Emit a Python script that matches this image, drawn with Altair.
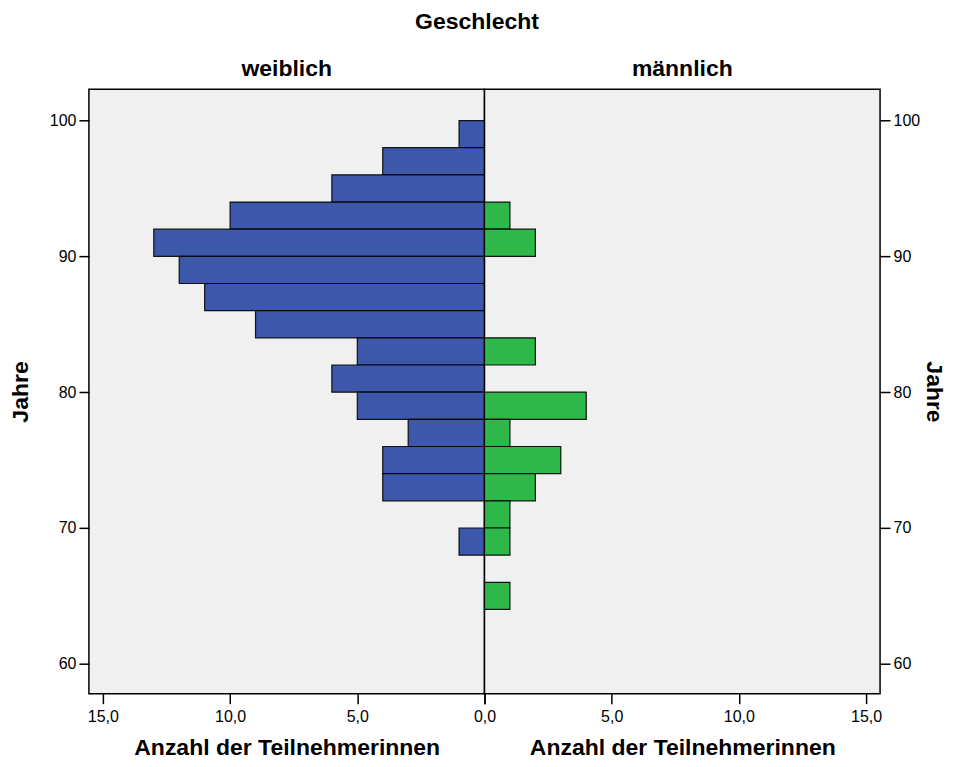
import altair as alt
import pandas as pd

# Age classes (2-year bins, lower bound in years)
age_start = [98, 96, 94, 92, 90, 88, 86, 84, 82, 80, 78, 76, 74, 72, 70, 68, 66, 64]
age_end = [100, 98, 96, 94, 92, 90, 88, 86, 84, 82, 80, 78, 76, 74, 72, 70, 68, 66]
female = [1, 4, 6, 10, 13, 12, 11, 9, 5, 6, 5, 3, 4, 4, 0, 1, 0, 0]
male = [0, 0, 0, 1, 2, 0, 0, 0, 2, 0, 4, 1, 3, 2, 1, 1, 0, 1]

x_ticks = [0, 5, 10, 15]
y_ticks = [60, 70, 80, 90, 100]

df_f = pd.DataFrame({"start": age_start, "end": age_end, "n": female})
df_f = df_f[df_f.n > 0]
df_m = pd.DataFrame({"start": age_start, "end": age_end, "n": male})
df_m = df_m[df_m.n > 0]

FONT = "Liberation Sans"
W, H = 396, 605
label_left = "replace(format(datum.value, '.1f'), '.', ',')"
label_right = "datum.value == 0 ? '' : replace(format(datum.value, '.1f'), '.', ',')"

yscale = alt.Scale(domain=[57.8, 102.3], nice=False, zero=False)


def panel(df, color, reverse, orient, title_angle, name, lexpr, ytp):
    xaxis = alt.Axis(values=x_ticks, labelExpr=lexpr, labelFlush=False,
                     title="Anzahl der Teilnehmerinnen", grid=False,
                     labelPadding=5, titlePadding=12)
    yaxis = alt.Axis(values=y_ticks, orient=orient, title="Jahre",
                     titleAngle=title_angle, grid=False, titlePadding=ytp,
                     labelPadding=3)
    return alt.Chart(df).mark_bar(
        color=color, stroke="black", strokeWidth=1.2, strokeOpacity=0.9
    ).encode(
        x=alt.X("n:Q", scale=alt.Scale(domain=[0, 15.55], nice=False, reverse=reverse), axis=xaxis),
        x2=alt.datum(0),
        y=alt.Y("start:Q", scale=yscale, axis=yaxis),
        y2="end:Q",
    ).properties(
        width=W, height=H,
        title=alt.TitleParams(name, fontSize=23, font=FONT, fontWeight="bold", offset=8, color="black"),
    )


left = panel(df_f, "#3d58ab", True, "left", -90, "weiblich", label_left, 17)
right = panel(df_m, "#2fb84a", False, "right", 90, "männlich", label_right, 2)

chart = alt.hconcat(left, right, spacing=0, bounds="flush").properties(
    title=alt.TitleParams("Geschlecht", fontSize=23, font=FONT, fontWeight="bold",
                          anchor="middle", offset=24, color="black"),
    padding={"left": 0, "top": 2, "right": 2, "bottom": 0},
    background="white",
).configure_view(
    fill="#f0f0f0", stroke="black", strokeWidth=1.5
).configure_axis(
    domain=False, tickColor="black", tickSize=10, tickWidth=1.5,
    labelFont=FONT, labelFontSize=16, labelColor="black",
    titleFont=FONT, titleFontSize=23, titleFontWeight="bold", titleColor="black",
)

chart.save("out.html", embed_options={"renderer": "svg", "actions": False})
